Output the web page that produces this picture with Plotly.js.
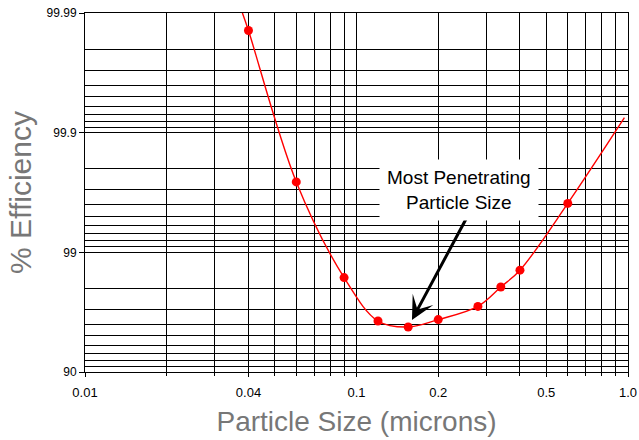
<!DOCTYPE html>
<html><head><meta charset="utf-8">
<script src="https://cdn.plot.ly/plotly-3.0.1.min.js"></script>
<style>html,body{margin:0;padding:0;background:#fff}#chart{width:639px;height:440px}</style>
</head><body><div id="chart"></div>
<script>
// Measured points (particle size in microns, % efficiency)
const particleSize = [0.04, 0.06, 0.09, 0.12, 0.155, 0.2, 0.28, 0.34, 0.40, 0.60];
const efficiency   = [99.986, 99.742, 98.375, 96.25, 95.79, 96.35, 97.17, 98.05, 98.59, 99.61];
// Fitted curve runs past the end points
const curveStartSize = 0.038, curveStartEff = 99.99;
const curveEndSize = 0.97, curveEndEff = 99.925;

const xTickVals = [0.01, 0.04, 0.1, 0.2, 0.5, 1];
const xTickText = ['0.01', '0.04', '0.1', '0.2', '0.5', '1.0'];
const xMinorVals = [0.02, 0.03, 0.05, 0.06, 0.07, 0.08, 0.09, 0.3, 0.4, 0.6, 0.7, 0.8, 0.9];
const yTickEff = [90, 99, 99.9, 99.99];
const yTickText = ['90', '99', '99.9', '99.99'];
const yMinorEff = [91, 92, 93, 94, 95, 96, 97, 98,
                   99.1, 99.2, 99.3, 99.4, 99.5, 99.6, 99.7, 99.8,
                   99.91, 99.92, 99.93, 99.94, 99.95, 99.96, 99.97, 99.98];
const annoText = 'Most Penetrating<br>Particle Size';
const annoSize = 0.239, annoEff = 99.7;
const mppsIndex = 4;

// penetration (100 - efficiency) drawn on a reversed log axis
const pen = e => +(100 - e).toFixed(5);

const curveX = [curveStartSize, ...particleSize, curveEndSize];
const curveY = [curveStartEff, ...efficiency, curveEndEff].map(pen);

const traces = [
  { x: curveX, y: curveY, type: 'scatter', mode: 'lines',
    line: { color: '#ff0000', width: 1.4, shape: 'spline', smoothing: 1 },
    hoverinfo: 'skip', showlegend: false },
  { x: particleSize, y: efficiency.map(pen), type: 'scatter', mode: 'markers',
    marker: { color: '#ff0000', size: 9 },
    customdata: efficiency, hovertemplate: '%{x} µm: %{customdata}%<extra></extra>',
    showlegend: false }
];

const layout = {
  width: 639, height: 440,
  margin: { l: 85, r: 11, t: 13, b: 68 },
  paper_bgcolor: '#fff', plot_bgcolor: '#fff',
  font: { family: 'Liberation Sans, Arial, sans-serif', color: '#000' },
  xaxis: {
    type: 'log', range: [-2, 0],
    tickmode: 'array', tickvals: xTickVals, ticktext: xTickText,
    ticks: 'outside', ticklen: 4, tickwidth: 1, tickcolor: '#000',
    ticklabelstandoff: 4,
    tickfont: { size: 13, color: '#000' },
    showgrid: true, gridcolor: '#000', gridwidth: 1,
    minor: { tickmode: 'array', tickvals: xMinorVals, showgrid: true,
             gridcolor: '#000', gridwidth: 1, ticks: 'outside', ticklen: 3, tickcolor: '#000' },
    showline: true, linecolor: '#000', linewidth: 1, mirror: true,
    zeroline: false,
    title: { text: 'Particle Size (microns)', font: { size: 28, color: '#777' }, standoff: 12 }
  },
  yaxis: {
    type: 'log', range: [1, -2],
    tickmode: 'array', tickvals: yTickEff.map(pen), ticktext: yTickText,
    ticks: 'outside', ticklen: 5, tickwidth: 1, tickcolor: '#000',
    tickfont: { size: 12, color: '#000' },
    showgrid: true, gridcolor: '#000', gridwidth: 1,
    minor: { tickmode: 'array', tickvals: yMinorEff.map(pen), showgrid: true,
             gridcolor: '#000', gridwidth: 1, ticks: '' },
    showline: true, linecolor: '#000', linewidth: 1, mirror: true,
    zeroline: false,
    title: { text: '% Efficiency', font: { size: 30, color: '#777' }, standoff: 6 }
  },
  annotations: [
    { x: Math.log10(particleSize[mppsIndex]), y: Math.log10(pen(efficiency[mppsIndex])),
      xref: 'x', yref: 'y', text: '', showarrow: true,
      arrowhead: 3, arrowsize: 1.3, arrowwidth: 3, arrowcolor: '#000',
      axref: 'pixel', ayref: 'pixel', ax: 60, ay: -112, standoff: 8 },
    { x: Math.log10(annoSize), y: Math.log10(pen(annoEff)), xref: 'x', yref: 'y',
      text: annoText, showarrow: false, bgcolor: '#fff', borderpad: 7,
      font: { size: 19, color: '#000' }, align: 'center' }
  ]
};

Plotly.newPlot('chart', traces, layout, { displayModeBar: false, staticPlot: true });
</script>
</body></html>
